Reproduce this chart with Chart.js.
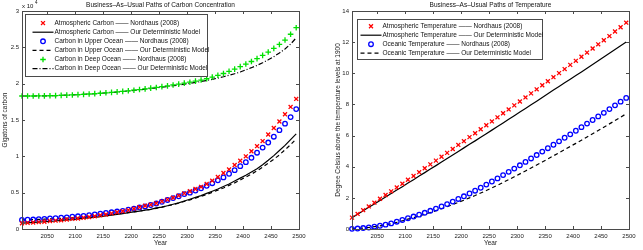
<!DOCTYPE html>
<html>
<head>
<meta charset="utf-8">
<script src="https://cdn.jsdelivr.net/npm/chart.js@4/dist/chart.umd.min.js"></script>
<style>
  html, body { margin: 0; padding: 0; background: #fff; }
  #wrap { position: relative; width: 643px; height: 250px; }
  #carbon { position: absolute; left: 0; top: 0; }
  #temp { position: absolute; left: 320px; top: 0; }
</style>
</head>
<body>
<div id="wrap">
  <canvas id="carbon" width="320" height="250"></canvas>
  <canvas id="temp" width="323" height="250"></canvas>
</div>
<script>
// decade steps used by both panels
const years = [2005, 2015, 2025, 2035, 2045, 2055, 2065, 2075, 2085, 2095,
  2105, 2115, 2125, 2135, 2145, 2155, 2165, 2175, 2185, 2195,
  2205, 2215, 2225, 2235, 2245, 2255, 2265, 2275, 2285, 2295,
  2305, 2315, 2325, 2335, 2345, 2355, 2365, 2375, 2385, 2395,
  2405, 2415, 2425, 2435, 2445, 2455, 2465, 2475, 2485, 2495];
const yearTicks = [2050, 2100, 2150, 2200, 2250, 2300, 2350, 2400, 2450, 2500];
const carbonTicks = [0, 0.5, 1, 1.5, 2, 2.5, 3];
const tempTicks = [0, 2, 4, 6, 8, 10, 12, 14];

// carbon stocks, in 10^4 gigatons
const atmCarbonNordhaus = [0.080, 0.085, 0.090, 0.095, 0.100, 0.110, 0.115, 0.120, 0.130, 0.140,
  0.145, 0.155, 0.165, 0.175, 0.190, 0.200, 0.215, 0.230, 0.245, 0.260,
  0.280, 0.300, 0.320, 0.335, 0.355, 0.380, 0.405, 0.430, 0.460, 0.490,
  0.520, 0.550, 0.580, 0.620, 0.665, 0.715, 0.770, 0.820, 0.880, 0.940,
  1.000, 1.070, 1.140, 1.210, 1.300, 1.390, 1.480, 1.580, 1.680, 1.790];
const atmCarbonModel = [0.080, 0.085, 0.090, 0.095, 0.100, 0.105, 0.110, 0.120, 0.125, 0.130,
  0.140, 0.145, 0.155, 0.160, 0.170, 0.180, 0.190, 0.200, 0.210, 0.225,
  0.235, 0.245, 0.260, 0.270, 0.290, 0.300, 0.320, 0.340, 0.360, 0.385,
  0.410, 0.435, 0.460, 0.490, 0.520, 0.550, 0.585, 0.620, 0.660, 0.700,
  0.740, 0.785, 0.830, 0.885, 0.945, 1.010, 1.080, 1.150, 1.230, 1.310];
const upperOceanNordhaus = [0.125, 0.128, 0.130, 0.135, 0.140, 0.145, 0.150, 0.155, 0.160, 0.170,
  0.175, 0.180, 0.190, 0.200, 0.210, 0.220, 0.230, 0.240, 0.250, 0.265,
  0.280, 0.295, 0.310, 0.330, 0.350, 0.375, 0.400, 0.425, 0.450, 0.480,
  0.500, 0.530, 0.560, 0.595, 0.630, 0.670, 0.710, 0.760, 0.810, 0.865,
  0.920, 0.980, 1.050, 1.120, 1.190, 1.270, 1.360, 1.450, 1.540, 1.650];
const upperOceanModel = [0.125, 0.127, 0.130, 0.132, 0.135, 0.138, 0.142, 0.146, 0.150, 0.155,
  0.160, 0.165, 0.170, 0.175, 0.180, 0.190, 0.200, 0.210, 0.215, 0.225,
  0.235, 0.245, 0.260, 0.270, 0.285, 0.300, 0.320, 0.335, 0.355, 0.380,
  0.400, 0.425, 0.450, 0.475, 0.505, 0.535, 0.565, 0.600, 0.635, 0.675,
  0.715, 0.755, 0.800, 0.850, 0.905, 0.960, 1.020, 1.090, 1.160, 1.240];
const deepOceanNordhaus = [1.830, 1.830, 1.830, 1.831, 1.832, 1.834, 1.836, 1.839, 1.842, 1.845,
  1.849, 1.853, 1.858, 1.863, 1.868, 1.874, 1.880, 1.887, 1.894, 1.902,
  1.910, 1.919, 1.928, 1.938, 1.948, 1.959, 1.970, 1.982, 1.994, 2.007,
  2.020, 2.035, 2.050, 2.068, 2.090, 2.115, 2.140, 2.170, 2.200, 2.235,
  2.270, 2.305, 2.345, 2.390, 2.435, 2.485, 2.540, 2.600, 2.680, 2.770];
const deepOceanModel = [1.830, 1.830, 1.830, 1.831, 1.832, 1.834, 1.836, 1.839, 1.842, 1.845,
  1.849, 1.853, 1.857, 1.862, 1.867, 1.872, 1.878, 1.885, 1.892, 1.900,
  1.908, 1.916, 1.924, 1.933, 1.942, 1.951, 1.961, 1.971, 1.982, 1.993,
  2.005, 2.017, 2.030, 2.044, 2.060, 2.077, 2.095, 2.115, 2.137, 2.160,
  2.190, 2.220, 2.252, 2.288, 2.328, 2.372, 2.422, 2.478, 2.545, 2.630];

// temperature above 1900, degrees Celsius
const atmTempNordhaus = [0.73, 0.97, 1.21, 1.45, 1.69, 1.94, 2.18, 2.42, 2.67, 2.91,
  3.16, 3.40, 3.65, 3.90, 4.15, 4.39, 4.64, 4.89, 5.14, 5.40,
  5.64, 5.90, 6.15, 6.41, 6.66, 6.91, 7.17, 7.43, 7.68, 7.94,
  8.19, 8.45, 8.71, 8.97, 9.23, 9.49, 9.75, 10.01, 10.27, 10.54,
  10.80, 11.06, 11.33, 11.59, 11.86, 12.12, 12.39, 12.68, 12.96, 13.25];
const atmTempModel = [0.73, 0.95, 1.17, 1.39, 1.61, 1.83, 2.06, 2.28, 2.50, 2.72,
  2.95, 3.17, 3.40, 3.62, 3.85, 4.07, 4.30, 4.53, 4.75, 4.98,
  5.21, 5.44, 5.66, 5.89, 6.12, 6.35, 6.58, 6.81, 7.05, 7.28,
  7.51, 7.74, 7.98, 8.21, 8.45, 8.68, 8.92, 9.15, 9.39, 9.62,
  9.86, 10.09, 10.33, 10.57, 10.81, 11.05, 11.29, 11.53, 11.77, 12.01];
const oceanTempNordhaus = [0.01, 0.03, 0.06, 0.10, 0.15, 0.21, 0.28, 0.36, 0.47, 0.58,
  0.69, 0.80, 0.92, 1.04, 1.17, 1.31, 1.45, 1.60, 1.76, 1.93,
  2.10, 2.28, 2.46, 2.65, 2.85, 3.05, 3.25, 3.46, 3.67, 3.88,
  4.09, 4.31, 4.53, 4.75, 4.97, 5.19, 5.41, 5.63, 5.86, 6.08,
  6.31, 6.54, 6.77, 7.00, 7.23, 7.46, 7.70, 7.94, 8.18, 8.42];
const oceanTempModel = [0.01, 0.03, 0.06, 0.10, 0.15, 0.20, 0.27, 0.34, 0.43, 0.53,
  0.63, 0.73, 0.84, 0.95, 1.06, 1.18, 1.30, 1.43, 1.57, 1.71,
  1.85, 2.00, 2.15, 2.31, 2.47, 2.64, 2.81, 2.99, 3.17, 3.35,
  3.54, 3.73, 3.92, 4.11, 4.30, 4.50, 4.70, 4.90, 5.10, 5.30,
  5.50, 5.70, 5.91, 6.12, 6.33, 6.54, 6.75, 6.96, 7.18, 7.40];

const FONT = '"Liberation Sans", Arial, sans-serif';
const pairs = (vals) => vals.map((v, i) => ({ x: years[i], y: v }));

function markerSet(label, vals, style, color, radius) {
  return {
    label: label, data: pairs(vals), showLine: false,
    pointStyle: style, pointRadius: radius, pointHoverRadius: radius,
    pointBorderColor: color, pointBackgroundColor: 'rgba(0,0,0,0)',
    pointBorderWidth: 1.3, borderColor: color, clip: false,
  };
}
function lineSet(label, vals, dash) {
  return {
    label: label, data: pairs(vals), showLine: true, borderColor: '#000', borderWidth: 1.2,
    borderDash: dash, pointRadius: 0, tension: 0, clip: false,
  };
}

function drawMarker(ctx, style, x, y, r, color) {
  ctx.save();
  ctx.strokeStyle = color;
  ctx.lineWidth = 1.3;
  ctx.beginPath();
  if (style === 'crossRot') {
    const d = r * Math.SQRT1_2;
    ctx.moveTo(x - d, y - d); ctx.lineTo(x + d, y + d);
    ctx.moveTo(x - d, y + d); ctx.lineTo(x + d, y - d);
  } else if (style === 'cross') {
    ctx.moveTo(x - r, y); ctx.lineTo(x + r, y);
    ctx.moveTo(x, y - r); ctx.lineTo(x, y + r);
  } else {
    ctx.arc(x, y, r, 0, Math.PI * 2);
  }
  ctx.stroke();
  ctx.restore();
}

// matlab style: box round the axes, short ticks pointing inwards
const axesBox = {
  id: 'axesBox',
  afterDatasetsDraw(chart) {
    const { ctx, chartArea: a, scales } = chart;
    ctx.save();
    ctx.strokeStyle = '#4a4a4a';
    ctx.lineWidth = 1;
    ctx.strokeRect(Math.round(a.left) + 0.5, Math.round(a.top) + 0.5,
      Math.round(a.width), Math.round(a.height));
    ctx.beginPath();
    scales.x.ticks.forEach((t) => {
      const px = Math.round(scales.x.getPixelForValue(t.value)) + 0.5;
      ctx.moveTo(px, a.bottom); ctx.lineTo(px, a.bottom - 3);
      ctx.moveTo(px, a.top); ctx.lineTo(px, a.top + 3);
    });
    scales.y.ticks.forEach((t) => {
      const py = Math.round(scales.y.getPixelForValue(t.value)) + 0.5;
      ctx.moveTo(a.left, py); ctx.lineTo(a.left + 3, py);
      ctx.moveTo(a.right, py); ctx.lineTo(a.right - 3, py);
    });
    ctx.stroke();
    ctx.restore();
  },
};

// boxed legend in the upper left corner of the axes
const boxLegend = {
  id: 'boxLegend',
  afterDraw(chart, args, o) {
    const { ctx, chartArea: a } = chart;
    const x = Math.round(a.left + o.dx) + 0.5;
    const y = Math.round(a.top + o.dy) + 0.5;
    ctx.save();
    ctx.fillStyle = '#fff';
    ctx.fillRect(x, y, o.width, o.height);
    ctx.strokeStyle = '#4a4a4a';
    ctx.lineWidth = 1;
    ctx.strokeRect(x, y, o.width, o.height);
    ctx.font = o.fontSize + 'px ' + FONT;
    ctx.textBaseline = 'middle';
    chart.data.datasets.forEach((ds, i) => {
      const cy = y + o.firstRow + i * o.rowH;
      const x0 = x + o.sample[0], x1 = x + o.sample[1];
      if (ds.showLine === false) {
        drawMarker(ctx, ds.pointStyle, (x0 + x1) / 2, cy, ds.pointRadius, ds.pointBorderColor);
      } else {
        ctx.save();
        ctx.strokeStyle = ds.borderColor;
        ctx.lineWidth = ds.borderWidth;
        ctx.setLineDash(ds.borderDash || []);
        ctx.beginPath();
        ctx.moveTo(x0, cy); ctx.lineTo(x1, cy);
        ctx.stroke();
        ctx.restore();
      }
      ctx.fillStyle = '#111';
      ctx.fillText(ds.label, x + o.textX, cy);
    });
    ctx.restore();
  },
};

// title over the axes and the x 10^4 exponent
const headText = {
  id: 'headText',
  afterDraw(chart, args, o) {
    const { ctx, chartArea: a } = chart;
    ctx.save();
    ctx.fillStyle = '#111';
    ctx.textBaseline = 'middle';
    ctx.textAlign = 'center';
    ctx.font = '6.5px ' + FONT;
    ctx.fillText(o.title, (a.left + a.right) / 2, 5.5);
    if (o.exponent) {
      ctx.textAlign = 'left';
      ctx.font = '6px ' + FONT;
      ctx.fillText('x 10', a.left, 6);
      ctx.font = '4.5px ' + FONT;
      ctx.fillText(o.exponent, a.left + 13, 3);
    }
    ctx.restore();
  },
};

function makeOptions(cfg) {
  return {
    responsive: false,
    animation: false,
    events: [],
    layout: { padding: { top: 11, right: cfg.padRight, left: 0, bottom: 0 } },
    plugins: {
      legend: { display: false },
      tooltip: { enabled: false },
      headText: { title: cfg.title, exponent: cfg.exponent },
      boxLegend: cfg.legend,
    },
    scales: {
      x: {
        type: 'linear', min: 2005, max: 2500,
        grid: { display: false, drawTicks: false, tickLength: 0 }, border: { display: false },
        afterBuildTicks: (axis) => { axis.ticks = yearTicks.map((v) => ({ value: v })); },
        afterFit: (axis) => { axis.height = 21; },
        ticks: {
          font: { family: FONT, size: 6 }, color: '#222', padding: 4, maxRotation: 0, autoSkip: false,
          callback: (v) => String(v),
        },
        title: { display: true, text: 'Year', font: { family: FONT, size: 6.5 }, color: '#222', padding: { top: 0, bottom: 3 } },
      },
      y: {
        type: 'linear', min: cfg.yMin, max: cfg.yMax,
        grid: { display: false, drawTicks: false, tickLength: 0 }, border: { display: false },
        afterBuildTicks: (axis) => { axis.ticks = cfg.yTicks.map((v) => ({ value: v })); },
        afterFit: (axis) => { axis.width = cfg.yWidth; },
        ticks: { font: { family: FONT, size: 6 }, color: '#222', padding: 3, callback: (v) => String(v) },
        title: { display: true, text: cfg.yTitle, font: { family: FONT, size: 6.5 }, color: '#222', padding: { top: cfg.yTitlePad, bottom: 0 } },
      },
    },
  };
}

new Chart(document.getElementById('carbon').getContext('2d'), {
  type: 'scatter',
  data: {
    datasets: [
      markerSet('Atmospheric Carbon —— Nordhaus (2008)', atmCarbonNordhaus, 'crossRot', '#ff0000', 2.8),
      lineSet('Atmospheric Carbon —— Our Deterministic Model', atmCarbonModel, []),
      markerSet('Carbon in Upper Ocean —— Nordhaus (2008)', upperOceanNordhaus, 'circle', '#0000ff', 2.3),
      lineSet('Carbon in Upper Ocean —— Our Deterministic Model', upperOceanModel, [4, 3]),
      markerSet('Carbon in Deep Ocean —— Nordhaus (2008)', deepOceanNordhaus, 'cross', '#00e000', 2.8),
      lineSet('Carbon in Deep Ocean —— Our Deterministic Model', deepOceanModel, [5, 2, 1, 2]),
    ],
  },
  options: makeOptions({
    padRight: 21, yMin: 0, yMax: 3, yTicks: carbonTicks, yWidth: 22, yTitlePad: 1,
    yTitle: 'Gigatons of carbon',
    title: 'Business–As–Usual Paths of Carbon Concentration', exponent: '4',
    legend: { dx: 3, dy: 3, width: 182, height: 62, firstRow: 8.6, rowH: 9.1, sample: [7, 28], textX: 29, fontSize: 6.5 },
  }),
  plugins: [axesBox, boxLegend, headText],
});

new Chart(document.getElementById('temp').getContext('2d'), {
  type: 'scatter',
  data: {
    datasets: [
      markerSet('Atmospheric Temperature —— Nordhaus (2008)', atmTempNordhaus, 'crossRot', '#ff0000', 2.8),
      lineSet('Atmospheric Temperature —— Our Deterministic Model', atmTempModel, []),
      markerSet('Oceanic Temperature —— Nordhaus (2008)', oceanTempNordhaus, 'circle', '#0000ff', 2.3),
      lineSet('Oceanic Temperature —— Our Deterministic Model', oceanTempModel, [4, 3]),
    ],
  },
  options: makeOptions({
    padRight: 14, yMin: 0, yMax: 14, yTicks: tempTicks, yWidth: 32, yTitlePad: 14,
    yTitle: 'Degree Celsius above the temperature levels at 1900',
    title: 'Business–As–Usual Paths of Temperature', exponent: null,
    legend: { dx: 5, dy: 8, width: 185, height: 40, firstRow: 6.7, rowH: 9, sample: [3, 24], textX: 25, fontSize: 6.5 },
  }),
  plugins: [axesBox, boxLegend, headText],
});
</script>
</body>
</html>
